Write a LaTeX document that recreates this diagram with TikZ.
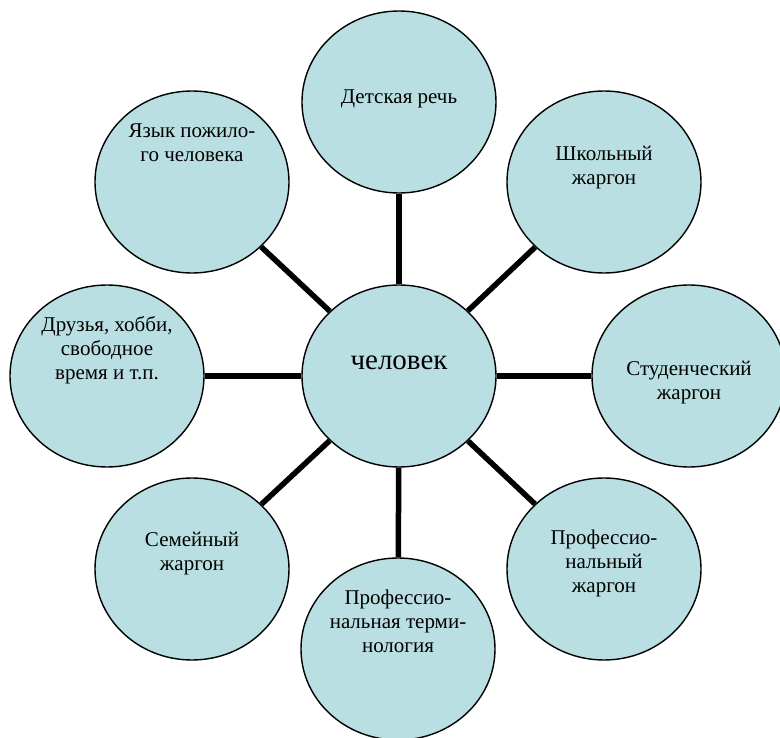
\documentclass[tikz,border=0pt]{standalone}
\usepackage{fontspec}
\setmainfont{Liberation Serif}
\usetikzlibrary{shapes.geometric}
\definecolor{bub}{RGB}{185,223,227}
\begin{document}
\begin{tikzpicture}[x=1pt,y=-1pt,
  bubble/.style={ellipse, draw=black, line width=1.4pt, fill=bub, minimum width=194pt, minimum height=182pt, inner sep=0pt},
  lab/.style={align=center, font=\rmfamily\fontsize{21}{24}\selectfont, inner sep=0pt},
  link/.style={line width=5.5pt}]
\useasboundingbox (0,0) rectangle (780,738);
\node[bubble] (c)  at (399,376) {};
\node[bubble] (n)  at (399,102) {};
\node[bubble] (ne) at (604,182) {};
\node[bubble] (e)  at (689,376) {};
\node[bubble] (se) at (604,569) {};
\node[bubble] (s)  at (398,649) {};
\node[bubble] (sw) at (192,569) {};
\node[bubble] (w)  at (107,376) {};
\node[bubble] (nw) at (192,182) {};
\draw[link] (c) -- (n);
\draw[link] (c) -- (ne);
\draw[link] (c) -- (e);
\draw[link] (c) -- (se);
\draw[link] (c) -- (s);
\draw[link] (c) -- (sw);
\draw[link] (c) -- (w);
\draw[link] (c) -- (nw);
\node[lab, font=\rmfamily\fontsize{29}{32}\selectfont] (tc) at (399,363) {человек};
\node[lab] (tn)  at (399,99) {Детская речь};
\node[lab] (tne) at (604,168) {Школьный\\жаргон};
\node[lab] (te)  at (689,383) {Студенческий\\жаргон};
\node[lab] (tse) at (604,563) {Профессио-\\нальный\\жаргон};
\node[lab] (ts)  at (398,621) {Профессио-\\нальная терми-\\нология};
\node[lab] (tsw) at (192,554) {Семейный\\жаргон};
\node[lab] (tw)  at (107,350) {Друзья, хобби,\\свободное\\время и т.п.};
\node[lab] (tnw) at (192,143) {Язык пожило-\\го человека};
\end{tikzpicture}
\end{document}
